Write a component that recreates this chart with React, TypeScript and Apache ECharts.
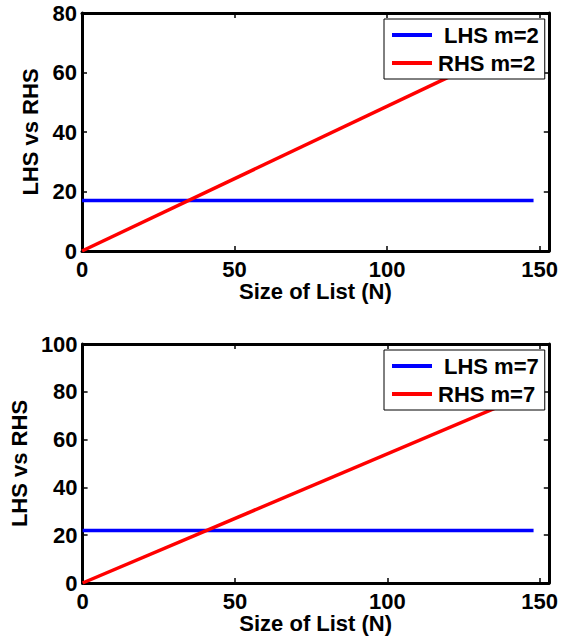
import React, { useEffect, useRef } from "react";
import * as echarts from "echarts";

const nValues = [0, 148];
const lhsM2 = [17, 17];
const rhsM2 = [0, 72];
const lhsM7 = [22, 22];
const rhsM7 = [0, 80];
const xTicks = [0, 50, 100, 150];
const yTicksTop = [0, 20, 40, 60, 80];
const yTicksBottom = [0, 20, 40, 60, 80, 100];

const FONT = "Liberation Sans";
const BLUE = "#0000ff";
const RED = "#ff0000";

export default function App() {
  const ref = useRef<HTMLDivElement>(null);
  useEffect(() => {
    if (!ref.current) return;
    const chart = echarts.init(ref.current, null, { renderer: "svg" });
    const labelStyle = { color: "#000", fontFamily: FONT, fontWeight: "bold" as const, fontSize: 22 };
    const lineAxis = { lineStyle: { color: "#000", width: 3 } };
    const mkX = (gi: number, main: boolean) => ({
      type: "value" as const,
      gridIndex: gi,
      position: main ? ("bottom" as const) : ("top" as const),
      min: 0,
      max: 153,
      splitLine: { show: false },
      axisLine: { ...lineAxis, onZero: false },
      axisTick: { show: true, inside: true, length: 5, lineStyle: { color: "#000", width: 1.5 }, customValues: xTicks },
      axisLabel: main
        ? { show: true, ...labelStyle, margin: 7, customValues: xTicks }
        : { show: false },
      name: main ? "Size of List (N)" : "",
      nameLocation: "middle" as const,
      nameGap: 29,
      nameTextStyle: { ...labelStyle },
    });
    const mkY = (gi: number, main: boolean, max: number, ticks: number[], gap: number) => ({
      type: "value" as const,
      gridIndex: gi,
      position: main ? ("left" as const) : ("right" as const),
      min: 0,
      max,
      interval: 20,
      splitLine: { show: false },
      axisLine: { ...lineAxis, onZero: false },
      axisTick: { show: true, inside: true, length: 5, lineStyle: { color: "#000", width: 1.5 }, customValues: ticks },
      axisLabel: main ? { show: true, ...labelStyle, margin: 5, customValues: ticks } : { show: false },
      name: main ? "LHS vs RHS" : "",
      nameLocation: "middle" as const,
      nameGap: gap,
      nameTextStyle: { ...labelStyle },
    });
    const textRich = { fontFamily: FONT, fontWeight: "bold", fontSize: 22, color: "#000", lineHeight: 24 };
    const mkLegend = (top: number, names: string[]) => ({
      data: names.map((n) => ({ name: n, icon: "rect" })),
      left: 384,
      top,
      orient: "vertical" as const,
      backgroundColor: "#fff",
      borderColor: "#000",
      borderWidth: 1,
      padding: [4, 6, 4, 8],
      itemGap: 4,
      itemWidth: 40,
      itemHeight: 4,
      formatter: (name: string) => (name.startsWith("LHS") ? `{l|${name}}` : `{r|${name}}`),
      textStyle: {
        ...textRich,
        rich: {
          l: { ...textRich, padding: [0, 0, 0, 7] },
          r: { ...textRich, padding: [0, 0, 0, 1] },
        },
      },
    });
    const mkLine = (name: string, xi: number, yi: number, ys: number[], color: string) => ({
      type: "line" as const,
      name,
      xAxisIndex: xi,
      yAxisIndex: yi,
      data: nValues.map((n, i) => [n, ys[i]]),
      symbol: "none",
      lineStyle: { color, width: 3.5 },
      itemStyle: { color },
      z: 3,
    });
    chart.setOption({
      animation: false,
      backgroundColor: "#fff",
      grid: [
        { left: 82, top: 13, width: 470, height: 238 },
        { left: 82, top: 344, width: 470, height: 239 },
      ],
      xAxis: [mkX(0, true), mkX(0, false), mkX(1, true), mkX(1, false)],
      yAxis: [
        mkY(0, true, 80, yTicksTop, 36),
        mkY(0, false, 80, yTicksTop, 36),
        mkY(1, true, 100, yTicksBottom, 49),
        mkY(1, false, 100, yTicksBottom, 49),
      ],
      legend: [mkLegend(19, ["LHS m=2", "RHS m=2"]), mkLegend(350, ["LHS m=7", "RHS m=7"])],
      series: [
        mkLine("LHS m=2", 0, 0, lhsM2, BLUE),
        mkLine("RHS m=2", 0, 0, rhsM2, RED),
        mkLine("LHS m=7", 2, 2, lhsM7, BLUE),
        mkLine("RHS m=7", 2, 2, rhsM7, RED),
      ],
    });
    return () => chart.dispose();
  }, []);
  return <div ref={ref} style={{ width: 561, height: 639, position: "absolute", left: 0, top: 0 }} />;
}
